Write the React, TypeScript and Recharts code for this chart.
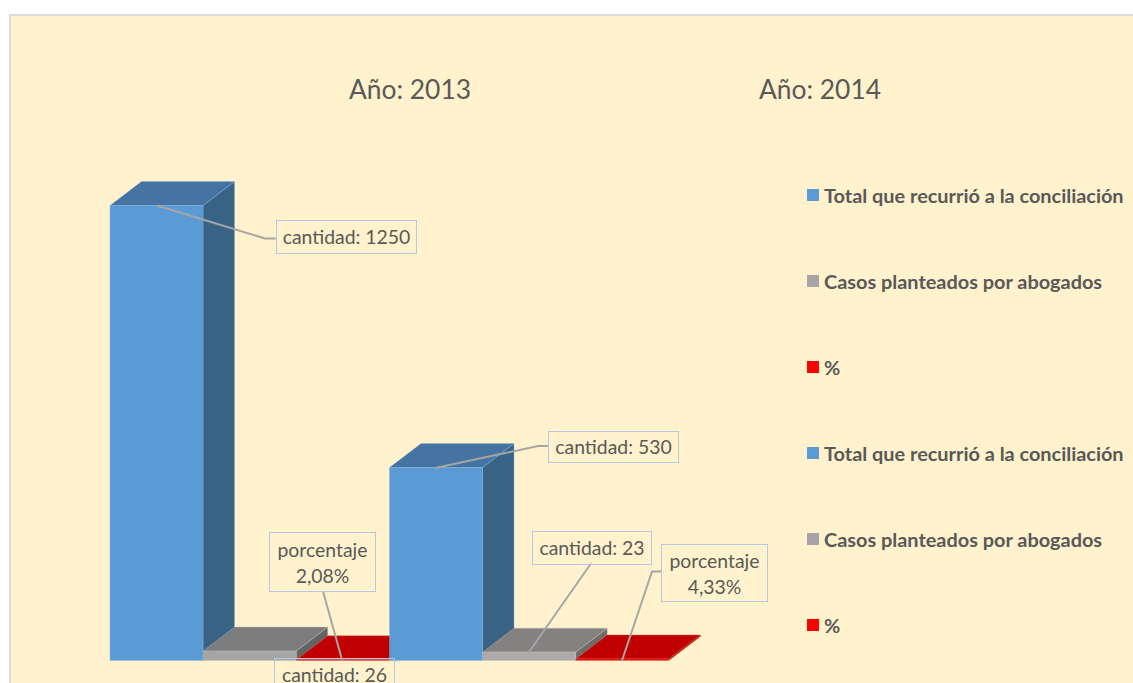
import React from "react";
import { BarChart, Bar, XAxis, YAxis, Legend, LabelList, Customized } from "recharts";

const categories = [
  "Total que recurrió a la conciliación",
  "Casos planteados por abogados",
  "%",
  "Total que recurrió a la conciliación",
  "Casos planteados por abogados",
  "%",
];
const values = [1250, 26, 2.08, 530, 23, 4.33];
const labelKinds = ["cantidad", "cantidad", "porcentaje", "cantidad", "cantidad", "porcentaje"];
const years = ["Año: 2013", "Año: 2014"];

const rows = categories.map((category, i) => ({ id: i, category, value: values[i] }));

const legendColors = ["#5B9BD5", "#A5A5A5", "#FF0000", "#5B9BD5", "#A5A5A5", "#FF0000"];
const faces = [
  { front: "#5B9BD5", top: "#4674A2", side: "#396385", edge: "#7FB0DE" },
  { front: "#A5A5A5", top: "#7C7C7C", side: "#636363", edge: "#BDBDBD" },
  { front: "#E00000", top: "#C00000", side: "#900000", edge: "#E86A5A" },
  { front: "#5B9BD5", top: "#4674A2", side: "#396385", edge: "#7FB0DE" },
  { front: "#AEAAAA", top: "#858181", side: "#6E6B6B", edge: "#C4C0C0" },
  { front: "#E00000", top: "#C00000", side: "#900000", edge: "#E86A5A" },
];

const DEPTH_X = 31.5;
const DEPTH_Y = 24;
const TEXT = "#595959";
const FONT = "Lato, sans-serif";

const Box3D = (props: any) => {
  const { x, y, width, height, index } = props;
  const f = faces[index];
  const r = x + width;
  const b = y + height;
  const edge = { stroke: f.edge, strokeWidth: 0.6, strokeOpacity: 0.7 };
  return (
    <g>
      <polygon
        points={`${r},${y} ${r + DEPTH_X},${y - DEPTH_Y} ${r + DEPTH_X},${b - DEPTH_Y} ${r},${b}`}
        fill={f.side}
        {...edge}
      />
      <polygon
        points={`${x},${y} ${x + DEPTH_X},${y - DEPTH_Y} ${r + DEPTH_X},${y - DEPTH_Y} ${r},${y}`}
        fill={f.top}
        {...edge}
      />
      <rect x={x} y={y} width={width} height={height} fill={f.front} {...edge} />
    </g>
  );
};

// Callout placement relative to the top-left corner of each bar.
const callouts = [
  { box: [165.7, 15, 140, 33], line: [[47, 0], [155, 33], [165.7, 33]] },
  { box: [70.8, 7.4, 120, 33], line: [] },
  { box: [-27.3, -127.3, 106, 59], line: [[26.7, -68.3], [45.7, 0]] },
  { box: [158.5, -36.5, 130, 31], line: [[45.5, 0.5], [148.5, -21.5], [158.5, -21.5]] },
  { box: [49.3, -121.6, 119, 33], line: [[108.3, -88.6], [45.3, 1.4]] },
  { box: [85.2, -115.4, 106, 57], line: [[85.2, -87.4], [76.2, -87.4], [46.2, 1.6]] },
];

const Callout = (props: any) => {
  const { x, y, index, value } = props;
  const c = callouts[index];
  const [dx, dy, w, h] = c.box;
  const bx = Math.round(x + dx) + 0.5;
  const by = Math.round(y + dy) + 0.5;
  const cx = bx + w / 2;
  const isPct = labelKinds[index] === "porcentaje";
  const pctText = String(value).replace(".", ",") + "%";
  const y1 = by + h / 2 - 5.5;
  return (
    <g>
      {c.line.length > 0 && (
        <polyline
          points={c.line.map(([a, b]) => `${x + a},${y + b}`).join(" ")}
          fill="none"
          stroke="#A6A6A6"
          strokeWidth={2}
        />
      )}
      <rect x={bx} y={by} width={w} height={h} fill="none" stroke="#B4C7E7" strokeWidth={1} />
      {isPct ? (
        <text textAnchor="middle" fontFamily={FONT} fontSize={19.4} fill={TEXT}>
          <tspan x={cx} y={y1}>porcentaje</tspan>
          <tspan x={cx} y={y1 + 26}>{pctText}</tspan>
        </text>
      ) : (
        <text x={cx} y={by + h / 2 + 7} textAnchor="middle" fontFamily={FONT} fontSize={19.4} fill={TEXT}>
          {`cantidad: ${value}`}
        </text>
      )}
    </g>
  );
};

const Titles = () => (
  <g>
    {years.map((t, i) => (
      <text key={t} x={410 + i * 410} y={99} textAnchor="middle" fontFamily={FONT} fontSize={26.4} fill={TEXT}>
        {t}
      </text>
    ))}
  </g>
);

const LegendBlock = () => (
  <div style={{ position: "relative", width: 330, height: 470 }}>
    {rows.map((r, i) => (
      <div
        key={r.id}
        style={{
          position: "absolute",
          left: 0,
          top: i * 86,
          height: 24,
          display: "flex",
          alignItems: "center",
          whiteSpace: "nowrap",
          fontFamily: FONT,
          fontWeight: 700,
          fontSize: 19.9,
          color: TEXT,
        }}
      >
        <span style={{ width: 12, height: 12, background: legendColors[i], marginRight: 5, display: "inline-block" }} />
        {r.category}
      </div>
    ))}
  </div>
);

export default function App() {
  return (
    <div style={{ position: "absolute", left: 0, top: 0, width: 1133, height: 683, overflow: "hidden", background: "#fff" }}>
      <div
        style={{
          position: "absolute",
          left: 9,
          top: 14,
          width: 1130,
          height: 680,
          background: "#FFF2CC",
          border: "2px solid #DCDCDC",
        }}
      />
      <div style={{ position: "absolute", left: 0, top: 0 }}>
        <BarChart
          width={1133}
          height={683}
          data={rows}
          margin={{ top: 150.9, right: 464, bottom: 22.5, left: 110 }}
          barCategoryGap={0}
          barGap={0}
        >
          <XAxis dataKey="id" hide />
          <YAxis hide domain={[0, 1400]} />
          <Legend
            layout="horizontal"
            verticalAlign="middle"
            align="center"
            content={<LegendBlock />}
            wrapperStyle={{ position: "absolute", left: 807, top: 183, width: 330, height: 470 }}
          />
          <Bar dataKey="value" isAnimationActive={false} shape={<Box3D />}>
            <LabelList dataKey="value" content={<Callout />} />
          </Bar>
          <Customized component={Titles} />
        </BarChart>
      </div>
    </div>
  );
}
